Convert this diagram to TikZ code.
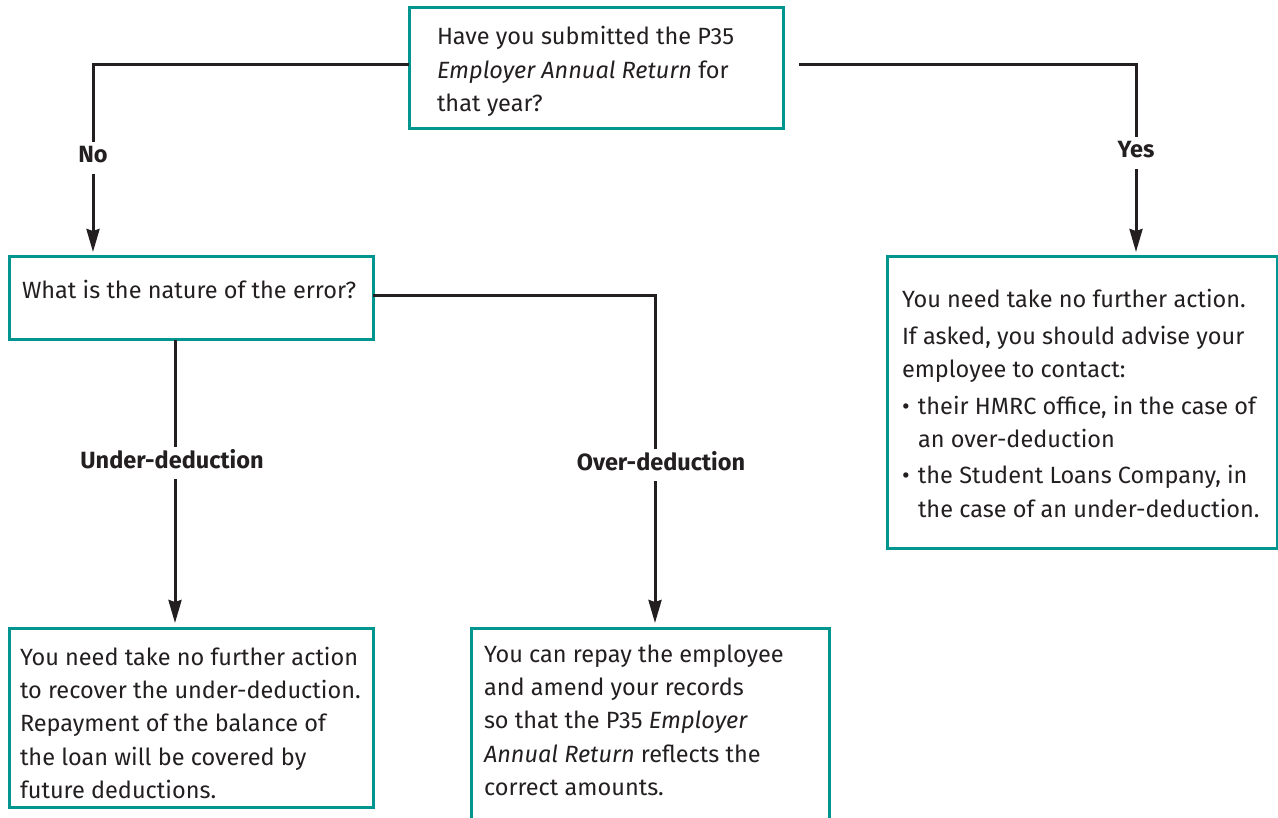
\documentclass[tikz,border=0pt]{standalone}
\usepackage{fontspec}
\setmainfont{Fira Sans}
\usetikzlibrary{arrows.meta}
\definecolor{tealbox}{RGB}{0,150,143}
\definecolor{ink}{RGB}{35,31,32}
\newcommand\bodyfont{\fontsize{23.5}{33.4}\selectfont}
\tikzset{
  box/.style={draw=tealbox, line width=3pt, anchor=north west, inner sep=0pt, outer sep=0pt},
  txt/.style={anchor=base west, inner sep=0pt, outer sep=0pt, text=ink, font=\bodyfont},
  conn/.style={draw=ink, line width=3pt, -{Stealth[length=23pt,width=13pt,inset=2pt]}, shorten >=5pt},
  lbl/.style={fill=white, text=ink, font=\bodyfont\bfseries, inner xsep=4pt, inner ysep=0pt, text height=21pt, text depth=11pt, anchor=base},
}
\begin{document}
\begin{tikzpicture}[x=1pt,y=-1pt]
\useasboundingbox (0,0) rectangle (1278,818);
\clip (0,0) rectangle (1278,818);
% boxes
\node[box, minimum width=374pt, minimum height=121pt] (A) at (409,8) {};
\node[box, minimum width=364pt, minimum height=83pt] (B) at (9,257) {};
\node[box, minimum width=390pt, minimum height=291pt] (C) at (887,257) {};
\node[box, minimum width=364pt, minimum height=179pt] (D) at (9,628) {};
\node[box, minimum width=358pt, minimum height=210pt] (E) at (471,628) {};
% texts
\node[txt] (tA) at (437,45) {\parbox[t]{340pt}{Have you submitted the P35\\
\textit{Employer Annual Return} for\\
that year?}};
\node[txt] (tB) at (22,299) {What is the nature of the error?};
\node[txt] (tC) at (902,308) {\parbox[t]{372pt}{\setlength{\parskip}{3pt}%
You need take no further action.\par
If asked, you should advise your\\
employee to contact:\par
\hangindent=16pt\hangafter=1 \makebox[16pt][l]{•}their HMRC office, in the case of\\
an over-deduction\par
\hangindent=16pt\hangafter=1 \makebox[16pt][l]{•}the Student Loans Company, in\\
the case of an under-deduction.}};
\node[txt] (tD) at (20,665) {\parbox[t]{350pt}{You need take no further action\\
to recover the under-deduction.\\
Repayment of the balance of\\
the loan will be covered by\\
future deductions.}};
\node[txt] (tE) at (484,662) {\parbox[t]{340pt}{You can repay the employee\\
and amend your records\\
so that the P35 \textit{Employer}\\
\textit{Annual Return} reflects the\\
correct amounts.}};
% connectors
\draw[conn] ([yshift=3.5pt]A.west) -| ([xshift=-98pt]B.north);
\draw[conn, shorten <=16pt] ([yshift=3.5pt]A.east) -| ([xshift=54pt]C.north);
\draw[conn] ([yshift=2.5pt]B.east) -| ([xshift=5pt]E.north);
\draw[conn] ([xshift=-16pt]B.south) -- ([xshift=-16pt]D.north);
% labels
\node[lbl] (lNo) at (93,163) {No};
\node[lbl] (lYes) at (1136,158) {Yes};
\node[lbl] (lUnder) at (172,468) {Under-deduction};
\node[lbl] (lOver) at (661,470) {Over-deduction};
\end{tikzpicture}
\end{document}
